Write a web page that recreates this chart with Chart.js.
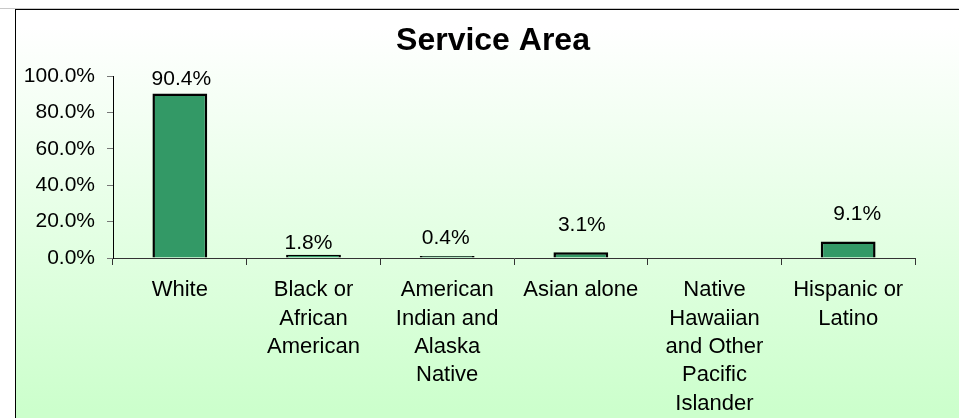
<!DOCTYPE html>
<html>
<head>
<meta charset="utf-8">
<script src="https://cdn.jsdelivr.net/npm/chart.js@4.4.0/dist/chart.umd.min.js"></script>
<style>
  html, body { margin: 0; padding: 0; background: #fff; overflow: hidden; }
  #topline { position: absolute; left: 0; top: 8px; width: 959px; height: 1px; background: #c8c8c8; }
  #rightline { position: absolute; left: 958px; top: 8px; width: 1px; height: 410px; background: #d4d4d4; }
  #box {
    position: absolute; left: 15px; top: 9px; width: 943px; height: 420px;
    border-top: 1px solid #000; border-left: 1px solid #000;
    background: linear-gradient(to bottom, #ffffff 0px, #ffffff 18px, #ccffcc 400px);
  }
  #chart { display: block; }
</style>
</head>
<body>
<div id="topline"></div>
<div id="rightline"></div>
<div id="box"><canvas id="chart" width="943" height="418"></canvas></div>
<script>
const categories = [
  ["White"],
  ["Black or", "African", "American"],
  ["American", "Indian and", "Alaska", "Native"],
  ["Asian alone"],
  ["Native", "Hawaiian", "and Other", "Pacific", "Islander"],
  ["Hispanic or", "Latino"]
];
const shares = [90.4, 1.8, 0.4, 3.1, null, 9.1];
const yTicks = [0, 20, 40, 60, 80, 100];
const titleText = "Service Area";

// where Excel left each data label (gap above bar, sideways nudge)
const labelGap = [8, 6, 12, 21, 0, 21];
const labelShift = [1.5, -5, -1.5, 1, 0, 9];

const font = "'Liberation Sans', Arial, sans-serif";

// title sits a little right of the plot centre in the original, so draw it here
const titleAndLabels = {
  id: "titleAndLabels",
  afterDatasetsDraw(chart) {
    const ctx = chart.ctx;
    const meta = chart.getDatasetMeta(0);
    ctx.save();
    ctx.font = "21px " + font;
    ctx.fillStyle = "#000";
    ctx.textAlign = "center";
    ctx.textBaseline = "alphabetic";
    meta.data.forEach((bar, i) => {
      const v = shares[i];
      if (v === null) return;
      ctx.fillText(v.toFixed(1) + "%", bar.x + labelShift[i], bar.y - labelGap[i]);
    });
    ctx.font = "bold 32px " + font;
    ctx.fillText(titleText, chart.width / 2 + 5.5, 40);
    ctx.restore();
  }
};

const ctx = document.getElementById("chart").getContext("2d");
const chart = new Chart(ctx, {
  type: "bar",
  data: {
    labels: categories,
    datasets: [
      {
        data: shares,
        backgroundColor: "#339966",
        borderColor: "#000",
        borderWidth: 2.5,
        minBarLength: 2,
        barPercentage: 0.41,
        categoryPercentage: 1
      }
    ]
  },
  options: {
    responsive: false,
    animation: false,
    layout: {
      padding: { left: 0, right: 44, top: 66, bottom: 5 }
    },
    plugins: {
      legend: { display: false },
      tooltip: { enabled: false },
      title: { display: false }
    },
    scales: {
      x: {
        grid: {
          display: true,
          drawOnChartArea: false,
          tickLength: 7,
          color: "#333"
        },
        border: { color: "#333", width: 1 },
        ticks: {
          color: "#000",
          font: { family: font, size: 22, lineHeight: 1.29 },
          padding: 11,
          maxRotation: 0,
          autoSkip: false
        },
        afterFit(scale) {
          scale.height = 165;
        }
      },
      y: {
        min: 0,
        max: 100,
        afterBuildTicks(scale) {
          scale.ticks = yTicks.map((v) => ({ value: v }));
        },
        grid: {
          display: true,
          drawOnChartArea: false,
          tickLength: 6,
          color: "#777"
        },
        border: { color: "#000", width: 1 },
        ticks: {
          color: "#000",
          font: { family: font, size: 21 },
          padding: 12,
          callback: (v) => v.toFixed(1) + "%"
        },
        afterFit(scale) {
          scale.width = 97;
        }
      }
    }
  },
  plugins: [titleAndLabels]
});
</script>
</body>
</html>
